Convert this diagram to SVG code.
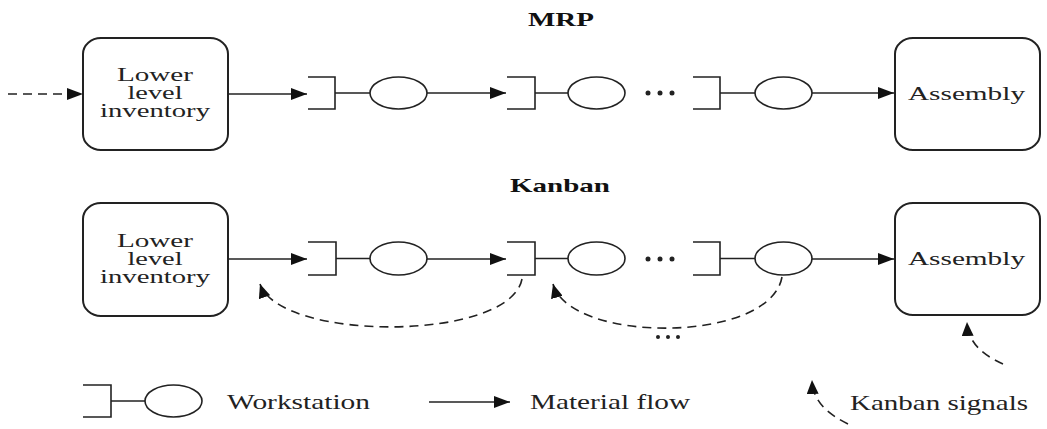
<svg xmlns="http://www.w3.org/2000/svg" width="1047" height="429" viewBox="0 0 1047 429">
<style>
.box{fill:#fff;stroke:#222;stroke-width:2}
.ln{fill:none;stroke:#222;stroke-width:1.6}
.dash{fill:none;stroke:#222;stroke-width:1.6;stroke-dasharray:9 6}
.ws{fill:none;stroke:#222;stroke-width:1.6}
.t{font-family:"Liberation Serif","Times New Roman",serif;font-size:18px;fill:#222}
.h{font-family:"Liberation Serif","Times New Roman",serif;font-size:19px;font-weight:bold;fill:#111}
.lg{font-family:"Liberation Serif","Times New Roman",serif;font-size:21px;fill:#222}
.dot{fill:#222}
</style>
<defs>
<marker id="ah" markerWidth="16" markerHeight="12" refX="16" refY="6" orient="auto" markerUnits="userSpaceOnUse">
<path d="M0,0 L16,6 L0,12 Z" fill="#111"/>
</marker>
<marker id="ahk" markerWidth="14" markerHeight="12" refX="14" refY="6" orient="auto" markerUnits="userSpaceOnUse">
<path d="M0,0 L14,6 L0,12 Z" fill="#111"/>
</marker>
</defs>

<text class="h" x="561" y="26" text-anchor="middle" textLength="66" lengthAdjust="spacingAndGlyphs">MRP</text>
<text class="h" x="560" y="192" text-anchor="middle" textLength="100" lengthAdjust="spacingAndGlyphs">Kanban</text>

<g id="mrp-lower">
<rect class="box" x="83" y="38" width="145" height="112" rx="18" ry="16"/>
<text class="t" x="155" y="81" text-anchor="middle" textLength="76" lengthAdjust="spacingAndGlyphs">Lower</text>
<text class="t" x="155" y="99" text-anchor="middle" textLength="55" lengthAdjust="spacingAndGlyphs">level</text>
<text class="t" x="155" y="117" text-anchor="middle" textLength="110" lengthAdjust="spacingAndGlyphs">inventory</text>
</g>
<g id="mrp-ws1"><path class="ws" d="M308,77 H335 V109 H308 M335,93 H370"/><ellipse class="ws" cx="398.5" cy="93" rx="28.5" ry="16"/></g>
<g id="mrp-ws2"><path class="ws" d="M507,77 H535 V109 H507 M535,93 H568"/><ellipse class="ws" cx="596.5" cy="93" rx="28.5" ry="16"/></g>
<g id="mrp-dots"><circle class="dot" cx="648" cy="93" r="2.5"/><circle class="dot" cx="660" cy="93" r="2.5"/><circle class="dot" cx="672" cy="93" r="2.5"/></g>
<g id="mrp-ws3"><path class="ws" d="M693,77 H720 V109 H693 M720,93 H755"/><ellipse class="ws" cx="783.5" cy="93" rx="28.5" ry="16"/></g>
<g id="mrp-assembly">
<rect class="box" x="895" y="38" width="145" height="112" rx="18" ry="16"/>
<text class="t" x="966.5" y="100" text-anchor="middle" textLength="117" lengthAdjust="spacingAndGlyphs">Assembly</text>
</g>

<g id="kb-lower">
<rect class="box" x="83" y="203" width="145" height="113" rx="18" ry="16"/>
<text class="t" x="155" y="247" text-anchor="middle" textLength="76" lengthAdjust="spacingAndGlyphs">Lower</text>
<text class="t" x="155" y="265" text-anchor="middle" textLength="55" lengthAdjust="spacingAndGlyphs">level</text>
<text class="t" x="155" y="283" text-anchor="middle" textLength="110" lengthAdjust="spacingAndGlyphs">inventory</text>
</g>
<g id="kb-ws1"><path class="ws" d="M308,242 H336 V275 H308 M336,258.5 H370"/><ellipse class="ws" cx="398.5" cy="258.5" rx="28.5" ry="16.5"/></g>
<g id="kb-ws2"><path class="ws" d="M507,242 H535 V275 H507 M535,258.5 H568"/><ellipse class="ws" cx="596.5" cy="258.5" rx="28.5" ry="16.5"/></g>
<g id="kb-dots"><circle class="dot" cx="648" cy="259" r="2.5"/><circle class="dot" cx="660" cy="259" r="2.5"/><circle class="dot" cx="672" cy="259" r="2.5"/></g>
<g id="kb-ws3"><path class="ws" d="M693,242 H720 V275 H693 M720,258.5 H755"/><ellipse class="ws" cx="783.5" cy="258.5" rx="28.5" ry="16.5"/></g>
<g id="kb-assembly">
<rect class="box" x="895" y="203" width="145" height="112" rx="18" ry="16"/>
<text class="t" x="966.5" y="265" text-anchor="middle" textLength="117" lengthAdjust="spacingAndGlyphs">Assembly</text>
</g>
<g id="kb-dots2"><circle class="dot" cx="658" cy="337" r="2"/><circle class="dot" cx="668" cy="337" r="2"/><circle class="dot" cx="678" cy="337" r="2"/></g>

<g id="legend">
<path class="ws" d="M83,385 H111 V417 H83 M111,401 H145"/><ellipse class="ws" cx="173.5" cy="401" rx="28.5" ry="16"/>
<text class="lg" x="227" y="409" textLength="143" lengthAdjust="spacingAndGlyphs">Workstation</text>
<line class="ln" x1="429" y1="402" x2="510" y2="402" marker-end="url(#ah)"/>
<text class="lg" x="530" y="409" textLength="160" lengthAdjust="spacingAndGlyphs">Material flow</text>
<path class="dash" d="M848,424 C828,414 813,402 812,380" marker-end="url(#ahk)"/>
<text class="lg" x="850" y="410" textLength="178" lengthAdjust="spacingAndGlyphs">Kanban signals</text>
</g>

<g id="connectors">
<line class="dash" x1="8" y1="94" x2="83" y2="94" marker-end="url(#ah)"/>
<line class="ln" x1="228" y1="94" x2="307" y2="94" marker-end="url(#ah)"/>
<line class="ln" x1="427" y1="93" x2="506" y2="93" marker-end="url(#ah)"/>
<line class="ln" x1="812" y1="93" x2="894" y2="93" marker-end="url(#ah)"/>
<line class="ln" x1="228" y1="259" x2="307" y2="259" marker-end="url(#ah)"/>
<line class="ln" x1="427" y1="259" x2="506" y2="259" marker-end="url(#ah)"/>
<line class="ln" x1="812" y1="259" x2="894" y2="259" marker-end="url(#ah)"/>
<path class="dash" d="M522,279 C510,342 280,342 260,284" marker-end="url(#ahk)"/>
<path class="dash" d="M782,277 C770,344 570,344 553,284" marker-end="url(#ahk)"/>
<path class="dash" d="M1003,364 C985,356 968,344 967,322" marker-end="url(#ahk)"/>
</g>
</svg>
